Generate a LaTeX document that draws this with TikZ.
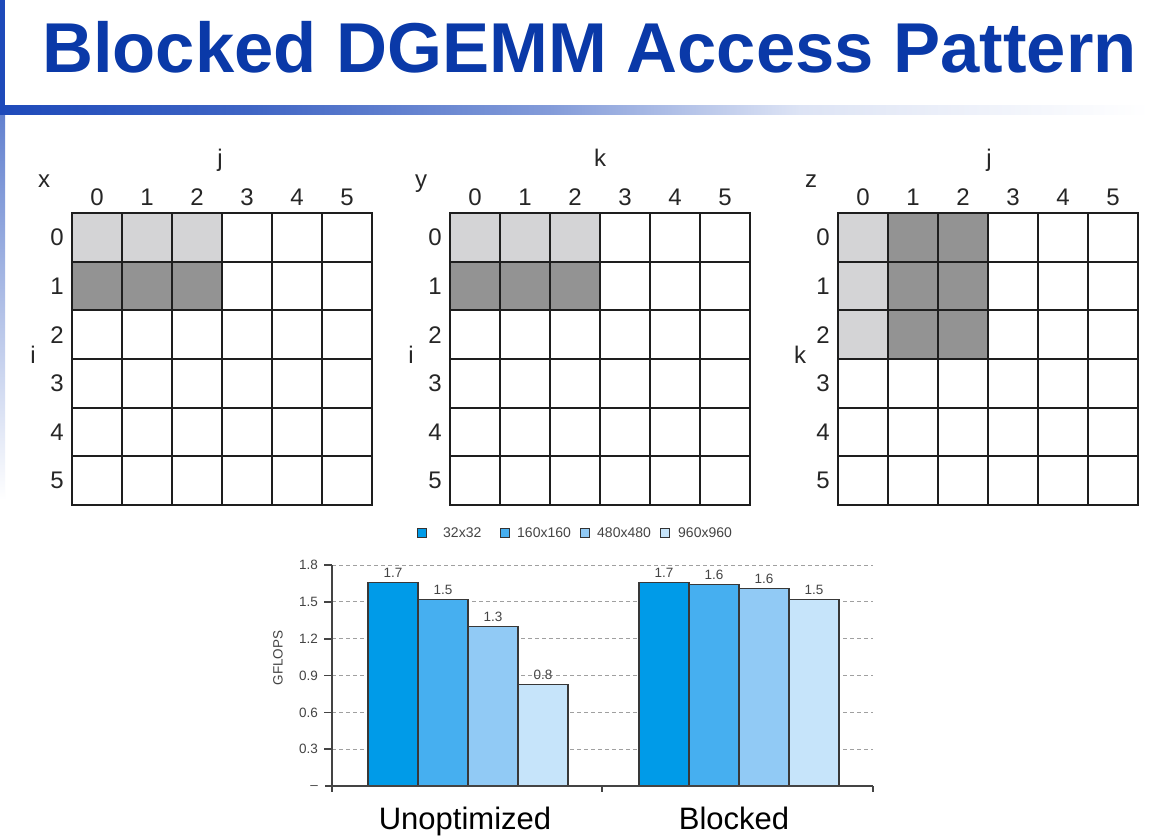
\documentclass[tikz,border=0pt]{standalone}
\usepackage{fontspec}
\setmainfont{Liberation Sans}
\definecolor{titleblue}{RGB}{10,57,168}
\definecolor{barblue}{RGB}{30,74,186}
\definecolor{lightcell}{RGB}{212,212,214}
\definecolor{darkcell}{RGB}{147,147,147}
\definecolor{gridline}{RGB}{30,30,30}
\definecolor{bA}{RGB}{0,155,232}
\definecolor{bB}{RGB}{70,175,240}
\definecolor{bC}{RGB}{145,202,245}
\definecolor{bD}{RGB}{198,228,250}
\definecolor{chartgray}{RGB}{68,68,68}
\definecolor{dashgray}{RGB}{160,160,160}
\tikzset{
 lbl/.style={font=\fontsize{24}{28}\selectfont, text=black!85, inner sep=0pt},
 cellline/.style={draw=gridline, line width=2pt, line cap=rect},
 small/.style={font=\fontsize{13.5}{16}\selectfont, text=chartgray, inner sep=0pt},
 legtxt/.style={font=\fontsize{14}{16}\selectfont, text=chartgray, inner sep=0pt, anchor=west},
 barbox/.style={draw=black!78, line width=1.3pt},
 gline/.style={draw=dashgray, dash pattern=on 4pt off 3pt, line width=1pt},
 axisline/.style={draw=chartgray, line width=1.5pt},
 grouplbl/.style={font=\fontsize{31}{36}\selectfont, inner sep=0pt, anchor=base},
}
\newcommand\dgrid[2]{%
  \foreach \k in {0,...,6}{
    \draw[cellline] ({#1+50*\k},213) -- ({#1+50*\k},505);
    \draw[cellline] (#1,{213+48.667*\k}) -- ({#1+300},{213+48.667*\k});
  }
  \foreach \k in {0,...,5}{
    \node[lbl] (#2c\k) at ({#1+25+50*\k},197) {\k};
    \node[lbl] (#2r\k) at ({#1-15},{237.3+48.667*\k}) {\k};
  }
}
\begin{document}
\begin{tikzpicture}[x=1pt,y=-1pt]
\useasboundingbox[fill=white] (0,0) rectangle (1170,836);
% decoration
\fill[barblue] (0,0) rectangle (5,105);
\shade[top color=barblue!70, bottom color=white] (0,114) rectangle (5,500);
\shade[left color=barblue, right color=barblue!85] (0,105) rectangle (250,114);
\shade[left color=barblue!85, right color=barblue!55] (250,105) rectangle (550,114);
\shade[left color=barblue!55, right color=barblue!15] (550,105) rectangle (800,114);
\shade[left color=barblue!15, right color=white] (800,105) rectangle (1150,114);
% title
\node[anchor=base west, inner sep=0pt, text=titleblue, font=\fontsize{70.6}{80}\selectfont\bfseries] (title) at (42,72) {Blocked DGEMM Access Pattern};
% grid fills
\fill[lightcell] (72,213) rectangle (222,261.667);
\fill[darkcell] (72,261.667) rectangle (222,310.333);
\fill[lightcell] (450,213) rectangle (600,261.667);
\fill[darkcell] (450,261.667) rectangle (600,310.333);
\fill[lightcell] (838,213) rectangle (888,359);
\fill[darkcell] (888,213) rectangle (988,359);
\dgrid{72}{ga}
\dgrid{450}{gb}
\dgrid{838}{gc}
% axis letters
\node[lbl, anchor=base] (gax) at (44,187) {x};
\node[lbl, anchor=base] (gaj) at (220,166) {j};
\node[lbl, anchor=base] (gai) at (33,363) {i};
\node[lbl, anchor=base] (gby) at (421,187) {y};
\node[lbl, anchor=base] (gbk) at (600,166) {k};
\node[lbl, anchor=base] (gbi) at (411,363) {i};
\node[lbl, anchor=base] (gcz) at (811,187) {z};
\node[lbl, anchor=base] (gcj) at (989,166) {j};
\node[lbl, anchor=base] (gck) at (800,363) {k};
% legend
\foreach \cx/\c/\tx/\t [count=\n] in {422/bA/443/32x32, 505/bB/517/160x160, 585/bC/597/480x480, 665/bD/678/960x960} {
  \draw[fill=\c, draw=black!80, line width=1pt] ({\cx-4.5},528.5) rectangle ({\cx+4.5},537.5);
  \node[legtxt] (lg\n) at (\tx,533) {\t};
}
% gridlines and ticks
\foreach \v [count=\n] in {0.3,0.6,0.9,1.2,1.5,1.8} {
  \draw[gline] (332,{786-122.7*\v}) -- (873,{786-122.7*\v});
  \draw[axisline] (324,{786-122.7*\v}) -- (332,{786-122.7*\v});
  \node[small, anchor=east] (tk\n) at (318,{786-122.7*\v}) {\v};
}
\node[small, anchor=east] (tkz) at (318,788) {–};
% bars
\foreach \x/\h/\c/\l [count=\n] in {368/1.66/bA/1.7, 418/1.52/bB/1.5, 468/1.30/bC/1.3, 518/0.83/bD/0.8, 639/1.66/bA/1.7, 689/1.64/bB/1.6, 739/1.61/bC/1.6, 789/1.52/bD/1.5} {
  \draw[barbox, fill=\c] (\x,786) rectangle ({\x+50},{786-122.7*\h});
  \node[small, anchor=base] (bv\n) at ({\x+25},{786-122.7*\h-5}) {\l};
}
% axes
\draw[axisline] (325,786) -- (873,786);
\draw[axisline] (332,565) -- (332,792);
\draw[axisline] (602,786) -- (602,792);
\draw[axisline] (873,786) -- (873,792);
\node[small, rotate=90] (ylab) at (278,658) {GFLOPS};
\node[grouplbl] (gU) at (465,829) {Unoptimized};
\node[grouplbl] (gB) at (734,829) {Blocked};
\end{tikzpicture}
\end{document}
